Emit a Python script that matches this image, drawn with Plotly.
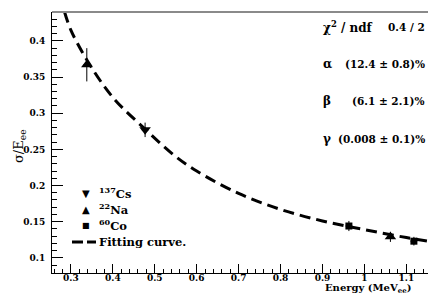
import plotly.graph_objects as go

# ---- data ----
cs_energy = [0.477]
cs_sigma = [0.277]
cs_err = [0.010]

na_energy = [0.338, 1.062]
na_sigma = [0.367, 0.129]
na_err = [0.023, 0.007]

co_energy = [0.963, 1.118]
co_sigma = [0.144, 0.123]
co_err = [0.007, 0.006]

x_err = 0.008

fit_energy = [0.285, 0.30, 0.34, 0.40, 0.477, 0.55, 0.60, 0.70, 0.80, 0.90, 1.00, 1.10, 1.185]
fit_sigma = [0.440, 0.415, 0.372, 0.322, 0.278, 0.240, 0.220, 0.189, 0.167, 0.151, 0.139, 0.128, 0.120]

x_ticks = [0.3, 0.4, 0.5, 0.6, 0.7, 0.8, 0.9, 1.0, 1.1]
x_tick_labels = ["0.3", "0.4", "0.5", "0.6", "0.7", "0.8", "0.9", "1", "1.1"]
y_ticks = [0.1, 0.15, 0.2, 0.25, 0.3, 0.35, 0.4]
y_tick_labels = ["0.1", "0.15", "0.2", "0.25", "0.3", "0.35", "0.4"]

stats_names = ["χ<sup>2</sup> / ndf", "α", "β", "γ"]
stats_values = ["0.4 / 2", "(12.4 ± 0.8)%", "(6.1 ± 2.1)%", "(0.008 ± 0.1)%"]

legend_symbols = ["▼", "▲", "■"]
legend_labels = ["<sup>137</sup>Cs", "<sup>22</sup>Na", "<sup>60</sup>Co", "Fitting curve."]

FONT = "DejaVu Serif"

fig = go.Figure()

fig.add_trace(go.Scatter(
    x=fit_energy, y=fit_sigma, mode="lines",
    line=dict(color="black", width=3, dash="11px,6px", shape="spline", smoothing=1.0),
    hoverinfo="skip", showlegend=False))

def pts(xs, ys, es, sym, size):
    fig.add_trace(go.Scatter(
        x=xs, y=ys, mode="markers",
        marker=dict(symbol=sym, size=size, color="black"),
        error_y=dict(type="data", array=es, color="black", thickness=1, width=0),
        error_x=dict(type="constant", value=x_err, color="black", thickness=1, width=0),
        showlegend=False))

pts(cs_energy, cs_sigma, cs_err, "triangle-down", 10)
pts(na_energy, na_sigma, na_err, "triangle-up", 10)
pts(co_energy, co_sigma, co_err, "square", 7)

tickfont = dict(family=FONT, size=9, color="black", weight="bold")

fig.update_xaxes(
    range=[0.255, 1.185], showgrid=False, zeroline=False,
    showline=True, linecolor="black", linewidth=1, mirror=False,
    ticks="inside", ticklen=9, tickwidth=1, tickcolor="black",
    tickvals=x_ticks, ticktext=x_tick_labels, tickfont=tickfont,
    ticklabelstandoff=-4,
    minor=dict(ticks="inside", ticklen=4, dtick=0.02, tick0=0.3, tickcolor="black", showgrid=False),
)
fig.update_yaxes(
    range=[0.079, 0.44], showgrid=False, zeroline=False,
    showline=True, linecolor="black", linewidth=1, mirror=False,
    ticks="inside", ticklen=11, tickwidth=1, tickcolor="black",
    tickvals=y_ticks, ticktext=y_tick_labels, tickfont=tickfont,
    ticklabelstandoff=4,
    minor=dict(ticks="inside", ticklen=5, dtick=0.01, tick0=0.1, tickcolor="black", showgrid=False),
)

shapes = [
    dict(type="line", xref="paper", yref="paper", x0=0, x1=1, y0=1, y1=1,
         line=dict(color="#8a8a8a", width=2)),
    dict(type="line", xref="paper", yref="paper", x0=1, x1=1, y0=0, y1=1,
         line=dict(color="black", width=1)),
]

W, H = 436, 295
L, R, T, B = 44, 2, 4, 30
pw, ph = W - L - R, H - T - B

def px(x):
    return (x - L) / pw

def py(y):
    return (H - B - y) / ph

annotations = []
stat_rows = [19, 56, 93, 131]
for name, val, yy in zip(stats_names, stats_values, stat_rows):
    annotations.append(dict(x=px(313), y=py(yy), xref="paper", yref="paper", text=name,
                            showarrow=False, xanchor="left", yanchor="middle",
                            font=dict(family=FONT, size=12, color="black", weight="bold")))
    annotations.append(dict(x=px(419), y=py(yy), xref="paper", yref="paper", text=val,
                            showarrow=False, xanchor="right", yanchor="middle",
                            font=dict(family=FONT, size=10.5, color="black", weight="bold")))

leg_rows = [185, 201, 217, 234]
for sym, yy in zip(legend_symbols, leg_rows[:3]):
    annotations.append(dict(x=px(78), y=py(yy), xref="paper", yref="paper", text=sym,
                            showarrow=False, xanchor="center", yanchor="middle",
                            font=dict(family="DejaVu Sans", size=10 if sym != "■" else 8, color="black")))
for lab, yy in zip(legend_labels, leg_rows):
    annotations.append(dict(x=px(89), y=py(yy), xref="paper", yref="paper", text=lab,
                            showarrow=False, xanchor="left", yanchor="middle",
                            font=dict(family=FONT, size=11.5, color="black", weight="bold")))
shapes.append(dict(type="line", xref="paper", yref="paper", x0=px(64), x1=px(88),
                   y0=py(leg_rows[3]), y1=py(leg_rows[3]),
                   line=dict(color="black", width=3, dash="11px,4px")))

annotations.append(dict(x=px(405), y=py(280), xref="paper", yref="paper",
                        text="Energy (MeV<sub>ee</sub>)", showarrow=False,
                        xanchor="right", yanchor="middle",
                        font=dict(family=FONT, size=10, color="black", weight="bold")))
annotations.append(dict(x=px(11), y=py(138), xref="paper", yref="paper",
                        text="σ/E<sub>ee</sub>", showarrow=False, textangle=-90,
                        xanchor="center", yanchor="middle",
                        font=dict(family=FONT, size=13, color="black")))

fig.update_layout(
    width=W, height=H,
    margin=dict(l=L, r=R, t=T, b=B),
    paper_bgcolor="white", plot_bgcolor="white",
    showlegend=False, shapes=shapes, annotations=annotations,
    font=dict(family=FONT, color="black"),
)

fig.write_html("out.html")
